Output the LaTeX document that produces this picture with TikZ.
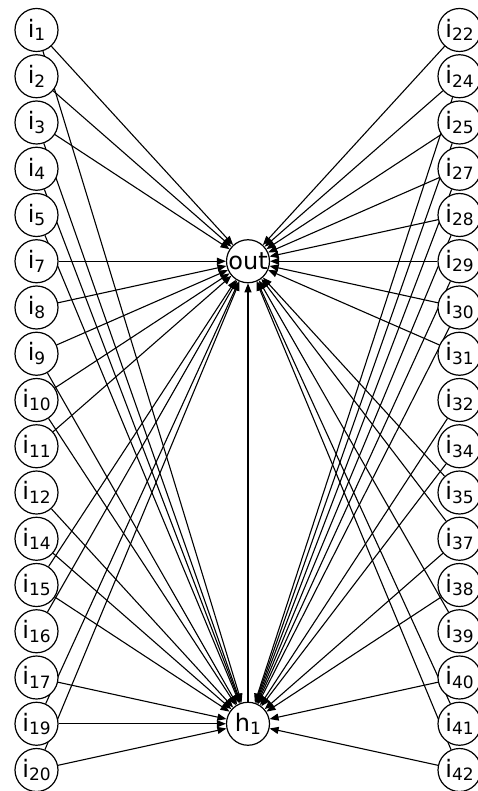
\documentclass[tikz,border=0pt]{standalone}
\usepackage{fontspec}
\setmainfont{DejaVu Sans}
\usetikzlibrary{arrows.meta}
\pgfdeclarelayer{background}
\pgfsetlayers{background,main}
\newcommand\lab[2]{#1\raisebox{-3.5pt}{\fontsize{17}{17}\selectfont #2}}
\tikzset{
  neuron/.style={circle, draw, fill=white, line width=1.2pt, minimum size=43pt, inner sep=0pt, font=\fontsize{24}{24}\selectfont},
  conn/.style={line width=1.1pt, -{Triangle[length=9pt,width=7pt]}},
}
\begin{document}
\begin{tikzpicture}[x=1pt,y=1pt]
\useasboundingbox (0,0) rectangle (478,-791);
% left column
\foreach \n [count=\k from 0] in {1,2,3,4,5,7,8,9,10,11,12,14,15,16,17,19,20} {
  \node[neuron] (i\n) at (36.5,{-30-46.25*\k}) {\lab{i}{\n}};
}
% right column
\foreach \n [count=\k from 0] in {22,24,25,27,28,29,30,31,32,34,35,37,38,39,40,41,42} {
  \node[neuron] (i\n) at (459.5,{-30-46.25*\k}) {\lab{i}{\n}};
}
\node[neuron] (out) at (248,-261.25) {out};
\node[neuron] (h1) at (248,-723.75) {\lab{h}{1}};
\begin{pgfonlayer}{background}
\foreach \n in {1,2,3,7,8,9,10,11,15,16,19,20,22,24,25,27,28,29,30,31,35,37,39,41,42} {
  \draw[conn] (i\n) -- (out);
}
\foreach \n in {1,3,4,5,9,10,12,14,15,17,19,20,24,25,27,28,29,30,32,34,37,38,40,42} {
  \draw[conn] (i\n) -- (h1);
}
\draw[conn] (h1) -- (out);
\end{pgfonlayer}
\end{tikzpicture}
\end{document}
